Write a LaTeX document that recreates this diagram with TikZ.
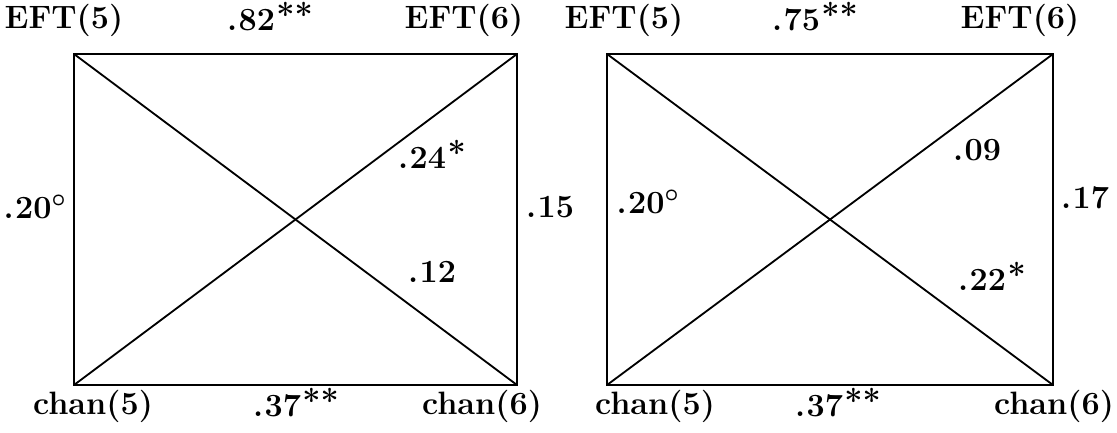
\documentclass[tikz,border=0pt]{standalone}
\usepackage{amsmath}
\tikzset{
  lbl/.style={inner sep=0pt,font=\fontsize{23}{26}\selectfont\bfseries},
  edge/.style={line width=1.3pt}
}
\newcommand{\sig}[1]{\kern1pt\smash{\raisebox{0.3ex}{\textbf{#1}}}}
\newcommand{\dg}{\ensuremath{^{\boldsymbol\circ}}}
\begin{document}
\begin{tikzpicture}[x=0.025cm,y=-0.025cm]
        \useasboundingbox (0,0) rectangle (1117,433);
        % left panel
        \coordinate (A5) at (74,54);
        \coordinate (A6) at (517,54);
        \coordinate (C5) at (74,385);
        \coordinate (C6) at (517,385);

        \draw[edge] (A5) -- (A6) -- (C6) -- (C5) -- cycle;
        \draw[edge] (A5) -- (C6);
        \draw[edge] (C5) -- (A6);

        \node[lbl] (ae5) at (64,20) {EFT(5)};
        \node[lbl] (ae6) at (464,20) {EFT(6)};
        \node[lbl] (ac5) at (93,406) {chan(5)};
        \node[lbl] (ac6) at (482,406) {chan(6)};
        \node[lbl] (atop) at (270,20) {.\kern1pt82\sig{**}};
        \node[lbl] (abot) at (296,406) {.\kern1pt37\sig{**}};
        \node[lbl] (aleft) at (35,207) {.\kern1pt20\dg};
        \node[lbl] (aright) at (550,207) {.\kern1pt15};
        \node[lbl] (aup) at (432,158) {.\kern1pt24\sig{*}};
        \node[lbl] (adown) at (432,272) {.\kern1pt12};

        % right panel
        \coordinate (B5) at (607,54);
        \coordinate (B6) at (1053,54);
        \coordinate (D5) at (607,385);
        \coordinate (D6) at (1053,385);

        \draw[edge] (B5) -- (B6) -- (D6) -- (D5) -- cycle;
        \draw[edge] (B5) -- (D6);
        \draw[edge] (D5) -- (B6);

        \node[lbl] (be5) at (624,20) {EFT(5)};
        \node[lbl] (be6) at (1020,20) {EFT(6)};
        \node[lbl] (bc5) at (655,406) {chan(5)};
        \node[lbl] (bc6) at (1054,406) {chan(6)};
        \node[lbl] (btop) at (815,20) {.\kern1pt75\sig{**}};
        \node[lbl] (bbot) at (838,406) {.\kern1pt37\sig{**}};
        \node[lbl] (bleft) at (648,202) {.\kern1pt20\dg};
        \node[lbl] (bright) at (1085,198) {.\kern1pt17};
        \node[lbl] (bup) at (977,150) {.\kern1pt09};
        \node[lbl] (bdown) at (992,280) {.\kern1pt22\sig{*}};
\end{tikzpicture}
\end{document}
